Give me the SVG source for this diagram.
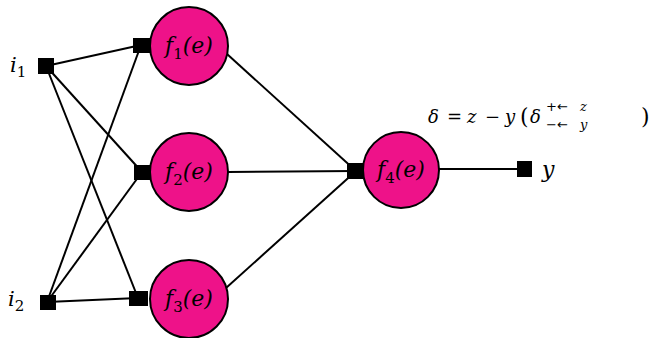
<svg xmlns="http://www.w3.org/2000/svg" width="654" height="338" viewBox="0 0 654 338">
<style>
.ln{stroke:#000;stroke-width:2;fill:none}
.nd{fill:#ee1289;stroke:#000;stroke-width:2}
.sq{fill:#000}
.t{font-family:"DejaVu Serif","Liberation Serif",serif;font-style:italic;fill:#000}
.u{font-family:"DejaVu Serif","Liberation Serif",serif;fill:#000}
.ar{font-family:"DejaVu Sans",sans-serif;fill:#000}
.lb{font-family:"DejaVu Serif","Liberation Serif",serif;font-style:italic;font-size:22px;fill:#000;text-anchor:middle}
.sb{font-size:15px;font-style:normal}
</style>
<rect width="654" height="338" fill="#fff"/>
<g id="connectors">
<line class="ln" x1="46" y1="66" x2="141" y2="45"/>
<line class="ln" x1="46" y1="66" x2="142" y2="172"/>
<line class="ln" x1="46" y1="66" x2="138" y2="298"/>
<line class="ln" x1="47" y1="302" x2="141" y2="45"/>
<line class="ln" x1="47" y1="302" x2="142" y2="172"/>
<line class="ln" x1="47" y1="302" x2="138" y2="298"/>
<line class="ln" x1="227" y1="54" x2="356" y2="171"/>
<line class="ln" x1="228" y1="172" x2="356" y2="171"/>
<line class="ln" x1="226" y1="288" x2="356" y2="171"/>
<line class="ln" x1="439" y1="169" x2="524" y2="169"/>
</g>
<g id="i1">
<rect class="sq" x="38" y="58" width="16" height="16"/>
<text class="t" x="10" y="72" font-size="21">i<tspan font-size="15" font-style="normal" dy="5">1</tspan></text>
</g>
<g id="i2">
<rect class="sq" x="40" y="295" width="16" height="15"/>
<text class="t" x="8" y="306" font-size="21">i<tspan font-size="15" font-style="normal" dy="5">2</tspan></text>
</g>
<g id="f1">
<rect class="sq" x="133" y="38" width="17" height="15"/>
<circle class="nd" cx="189" cy="46" r="39"/>
<text class="lb" x="189" y="53">f<tspan class="sb" dy="6">1</tspan><tspan dy="-6">(e)</tspan></text>
</g>
<g id="f2">
<rect class="sq" x="134" y="165" width="17" height="15"/>
<circle class="nd" cx="189" cy="172" r="39"/>
<text class="lb" x="189" y="179">f<tspan class="sb" dy="6">2</tspan><tspan dy="-6">(e)</tspan></text>
</g>
<g id="f3">
<rect class="sq" x="129" y="291" width="19" height="15"/>
<circle class="nd" cx="189" cy="299" r="39"/>
<text class="lb" x="189" y="306">f<tspan class="sb" dy="6">3</tspan><tspan dy="-6">(e)</tspan></text>
</g>
<g id="f4">
<rect class="sq" x="347" y="163" width="18" height="16"/>
<circle class="nd" cx="401" cy="170" r="38"/>
<text class="lb" x="401" y="177">f<tspan class="sb" dy="6">4</tspan><tspan dy="-6">(e)</tspan></text>
</g>
<g id="y">
<rect class="sq" x="517" y="161" width="15" height="16"/>
<text class="t" x="542" y="177" font-size="22">y</text>
</g>
<g id="formula">
<text class="t" x="428" y="123" font-size="18">δ</text>
<text class="u" x="447" y="123" font-size="18">=</text>
<text class="t" x="467" y="123" font-size="18">z</text>
<text class="u" x="485" y="123" font-size="18">−</text>
<text class="t" x="505" y="123" font-size="18">y</text>
<text class="u" x="520" y="124" font-size="22">(</text>
<text class="t" x="530" y="123" font-size="18">δ</text>
<text class="ar" x="546" y="111" font-size="13">+←</text>
<text class="t" x="580" y="111" font-size="13">z</text>
<text class="ar" x="546" y="129" font-size="13">−←</text>
<text class="t" x="580" y="129" font-size="13">y</text>
<text class="u" x="641" y="124" font-size="22">)</text>
</g>
</svg>
